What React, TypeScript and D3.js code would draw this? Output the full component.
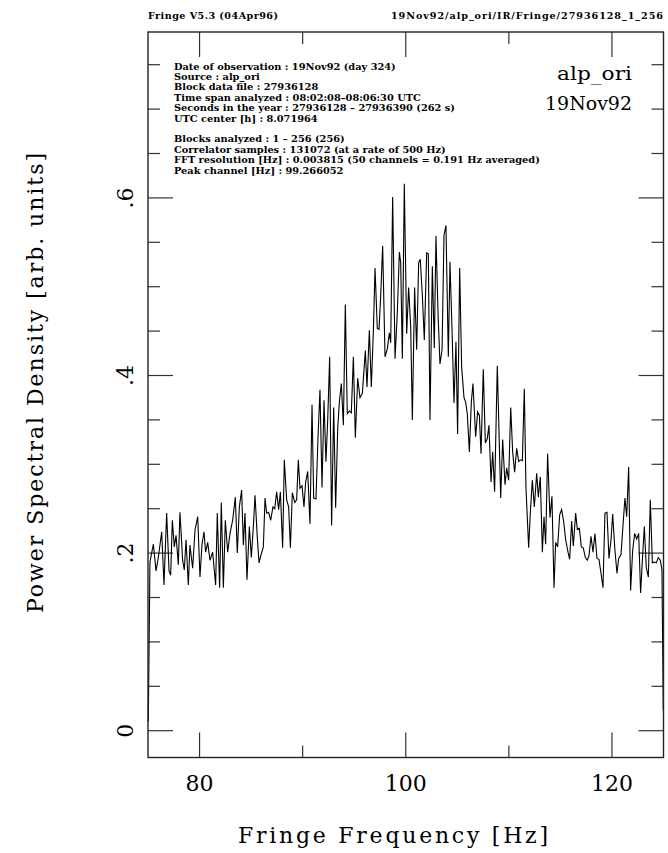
import React from "react";
import * as d3 from "d3";

const HEADER_LEFT = "Fringe V5.3 (04Apr96)";
const HEADER_RIGHT = "19Nov92/alp_ori/IR/Fringe/27936128_1_256";
const INFO_LINES = [
  "Date of observation : 19Nov92 (day 324)",
  "Source : alp_ori",
  "Block data file : 27936128",
  "Time span analyzed : 08:02:08\u201308:06:30 UTC",
  "Seconds in the year : 27936128 \u2013 27936390 (262 s)",
  "UTC center [h] : 8.071964",
  "",
  "Blocks analyzed : 1 \u2013 256 (256)",
  "Correlator samples : 131072 (at a rate of 500 Hz)",
  "FFT resolution [Hz] : 0.003815 (50 channels = 0.191 Hz averaged)",
  "Peak channel [Hz] : 99.266052",
];
const SOURCE_LABEL = "alp_ori";
const DATE_LABEL = "19Nov92";
const X_TITLE = "Fringe Frequency [Hz]";
const Y_TITLE = "Power Spectral Density [arb. units]";

const X_MAJOR = [80, 100, 120];
const X_MINOR = [90, 110];
const X_LABELS = ["80", "100", "120"];
const Y_MAJOR = [0, 0.2, 0.4, 0.6];
const Y_MINOR = [0.05, 0.1, 0.15, 0.25, 0.3, 0.35, 0.45, 0.5, 0.55, 0.65, 0.7, 0.75];
const Y_LABELS = ["0", ".2", ".4", ".6"];

const FREQ = [
  75.03, 75.19, 75.52, 75.78, 76.0, 76.33, 76.55, 76.81, 77.04, 77.2, 77.36, 77.55, 77.72, 77.94, 78.1,
  78.36, 78.52, 78.69, 78.91, 79.07, 79.33, 79.56, 79.82, 80.04, 80.24, 80.43, 80.59, 80.79, 81.01, 81.27,
  81.56, 81.72, 81.95, 82.11, 82.31, 82.5, 82.73, 82.95, 83.21, 83.47, 83.66, 83.86, 84.08, 84.25, 84.41,
  84.6, 84.83, 85.02, 85.22, 85.38, 85.6, 85.77, 85.96, 86.19, 86.35, 86.51, 86.7, 86.9, 87.12, 87.29,
  87.48, 87.67, 87.84, 88.06, 88.22, 88.45, 88.64, 88.81, 89.0, 89.23, 89.42, 89.58, 89.74, 89.94, 90.13,
  90.29, 90.49, 90.71, 90.91, 91.07, 91.29, 91.49, 91.68, 91.88, 92.07, 92.26, 92.43, 92.62, 92.81, 93.01,
  93.2, 93.4, 93.56, 93.75, 93.95, 94.14, 94.33, 94.53, 94.72, 94.92, 95.11, 95.34, 95.56, 95.79, 96.08,
  96.24, 96.47, 96.66, 96.86, 97.02, 97.24, 97.41, 97.57, 97.76, 97.99, 98.21, 98.41, 98.54, 98.73, 98.96,
  99.18, 99.38, 99.51, 99.67, 99.86, 100.09, 100.28, 100.48, 100.64, 100.86, 101.06, 101.25, 101.41, 101.61, 101.8,
  102.03, 102.19, 102.35, 102.58, 102.77, 102.93, 103.13, 103.32, 103.52, 103.71, 103.9, 104.13, 104.29, 104.49, 104.68,
  104.87, 105.03, 105.23, 105.42, 105.65, 105.81, 105.97, 106.17, 106.36, 106.52, 106.78, 106.97, 107.14, 107.3, 107.52,
  107.72, 107.91, 108.07, 108.27, 108.43, 108.62, 108.88, 109.21, 109.4, 109.63, 109.79, 109.98, 110.18, 110.37, 110.56,
  110.76, 110.95, 111.11, 111.31, 111.5, 111.66, 111.92, 112.08, 112.28, 112.47, 112.7, 112.86, 113.05, 113.25, 113.41,
  113.57, 113.76, 113.99, 114.18, 114.38, 114.54, 114.73, 114.93, 115.12, 115.32, 115.51, 115.74, 115.9, 116.09, 116.25,
  116.48, 116.64, 116.84, 117.03, 117.22, 117.42, 117.61, 117.77, 117.97, 118.16, 118.35, 118.55, 118.74, 118.94, 119.13,
  119.32, 119.52, 119.71, 119.91, 120.07, 120.29, 120.49, 120.65, 120.88, 121.07, 121.26, 121.43, 121.62, 121.81, 122.01,
  122.2, 122.4, 122.59, 122.78, 122.98, 123.14, 123.33, 123.53, 123.72, 123.92, 124.11, 124.3, 124.5, 124.69, 124.85,
  124.98,
];

const PSD = [
  0.01, 0.19, 0.21, 0.18, 0.195, 0.224, 0.164, 0.245, 0.18, 0.175, 0.237, 0.207, 0.22, 0.187, 0.246,
  0.192, 0.181, 0.215, 0.164, 0.209, 0.183, 0.226, 0.241, 0.173, 0.21, 0.224, 0.201, 0.212, 0.192, 0.201,
  0.164, 0.245, 0.161, 0.257, 0.161, 0.237, 0.201, 0.222, 0.237, 0.263, 0.2, 0.252, 0.271, 0.209, 0.245,
  0.17, 0.23, 0.195, 0.23, 0.265, 0.218, 0.189, 0.198, 0.207, 0.262, 0.245, 0.246, 0.237, 0.252, 0.25,
  0.269, 0.249, 0.269, 0.206, 0.305, 0.26, 0.252, 0.206, 0.268, 0.257, 0.26, 0.305, 0.273, 0.276, 0.252,
  0.28, 0.292, 0.233, 0.367, 0.262, 0.261, 0.33, 0.384, 0.274, 0.372, 0.303, 0.35, 0.421, 0.231, 0.364,
  0.251, 0.34, 0.37, 0.391, 0.344, 0.48, 0.357, 0.36, 0.358, 0.421, 0.33, 0.397, 0.375, 0.38, 0.428,
  0.387, 0.451, 0.387, 0.45, 0.521, 0.453, 0.452, 0.49, 0.546, 0.421, 0.43, 0.448, 0.437, 0.601, 0.419,
  0.47, 0.539, 0.527, 0.419, 0.616, 0.447, 0.499, 0.455, 0.35, 0.499, 0.429, 0.527, 0.531, 0.49, 0.44,
  0.538, 0.537, 0.35, 0.523, 0.431, 0.557, 0.47, 0.413, 0.429, 0.558, 0.569, 0.421, 0.528, 0.45, 0.369,
  0.438, 0.334, 0.521, 0.41, 0.375, 0.37, 0.357, 0.314, 0.37, 0.391, 0.331, 0.359, 0.355, 0.312, 0.407,
  0.324, 0.329, 0.344, 0.28, 0.314, 0.269, 0.411, 0.262, 0.328, 0.277, 0.296, 0.282, 0.364, 0.314, 0.291,
  0.318, 0.303, 0.305, 0.304, 0.385, 0.274, 0.206, 0.245, 0.282, 0.252, 0.29, 0.263, 0.286, 0.201, 0.241,
  0.21, 0.312, 0.24, 0.264, 0.161, 0.212, 0.207, 0.243, 0.249, 0.235, 0.215, 0.201, 0.193, 0.236, 0.208,
  0.245, 0.227, 0.228, 0.207, 0.206, 0.195, 0.192, 0.197, 0.219, 0.201, 0.222, 0.194, 0.193, 0.177, 0.161,
  0.245, 0.246, 0.194, 0.215, 0.244, 0.203, 0.177, 0.194, 0.198, 0.231, 0.262, 0.241, 0.297, 0.158, 0.203,
  0.222, 0.216, 0.222, 0.155, 0.198, 0.23, 0.184, 0.173, 0.26, 0.189, 0.19, 0.189, 0.195, 0.192, 0.181,
  0.023,
];

const W = 668;
const H = 853;
const LEFT = 148;
const RIGHT = 663.5;
const TOP = 32;
const BOTTOM = 757.5;
const MAJOR_LEN = 25;
const MINOR_LEN = 12;

export default function App() {
  const x = d3.scaleLinear().domain([75, 125]).range([LEFT, RIGHT]);
  const y = d3.scaleLinear().domain([0, 0.6]).range([730.7, 197.9]);
  const pts: [number, number][] = FREQ.map((f, i) => [f, PSD[i]]);
  const line = d3
    .line<[number, number]>()
    .x((d) => x(d[0]))
    .y((d) => y(d[1]));

  const tickStroke = "#333";
  const smallFont = "'DejaVu Serif', serif";
  const bigFont = "'DejaVu Serif', serif";

  return (
    <svg
      width={W}
      height={H}
      viewBox={`0 0 ${W} ${H}`}
      style={{ position: "absolute", left: 0, top: 0, background: "#fff" }}
    >
      <rect x={0} y={0} width={W} height={H} fill="#fff" />
      {/* header */}
      <text x={148} y={18.5} fontFamily={smallFont} fontWeight="bold" fontSize={9.6} fill="#000" textLength={130} lengthAdjust="spacing">
        {HEADER_LEFT}
      </text>
      <text x={391} y={18.5} fontFamily={smallFont} fontWeight="bold" fontSize={9.6} fill="#000" textLength={272} lengthAdjust="spacing">
        {HEADER_RIGHT}
      </text>

      {/* ticks */}
      <g stroke={tickStroke} strokeWidth={1.2}>
        {X_MAJOR.map((v) => (
          <g key={"xm" + v}>
            <line x1={x(v)} x2={x(v)} y1={BOTTOM} y2={BOTTOM - MAJOR_LEN} />
            <line x1={x(v)} x2={x(v)} y1={TOP} y2={TOP + MAJOR_LEN} />
          </g>
        ))}
        {X_MINOR.map((v) => (
          <g key={"xn" + v}>
            <line x1={x(v)} x2={x(v)} y1={BOTTOM} y2={BOTTOM - MINOR_LEN} />
            <line x1={x(v)} x2={x(v)} y1={TOP} y2={TOP + MINOR_LEN} />
          </g>
        ))}
        {Y_MAJOR.map((v) => (
          <g key={"ym" + v}>
            <line x1={LEFT} x2={LEFT + MAJOR_LEN} y1={y(v)} y2={y(v)} />
            <line x1={RIGHT} x2={RIGHT - MAJOR_LEN} y1={y(v)} y2={y(v)} />
          </g>
        ))}
        {Y_MINOR.map((v) => (
          <g key={"yn" + v}>
            <line x1={LEFT} x2={LEFT + MINOR_LEN} y1={y(v)} y2={y(v)} />
            <line x1={RIGHT} x2={RIGHT - MINOR_LEN} y1={y(v)} y2={y(v)} />
          </g>
        ))}
      </g>

      {/* data */}
      <path d={line(pts) || ""} fill="none" stroke="#000" strokeWidth={1.1} strokeLinejoin="miter" />

      {/* frame */}
      <rect x={LEFT} y={TOP} width={RIGHT - LEFT} height={BOTTOM - TOP} fill="none" stroke="#222" strokeWidth={1.4} />

      {/* info block */}
      <g fontFamily={smallFont} fontWeight="bold" fontSize={9.8} fill="#000">
        {INFO_LINES.map((t, i) =>
          t ? (
            <text key={i} x={174} y={69.5 + i * 10.4}>
              {t}
            </text>
          ) : null
        )}
      </g>

      <text x={632} y={80} textAnchor="end" fontFamily={bigFont} fontSize={19} fill="#000" textLength={75} lengthAdjust="spacingAndGlyphs">
        {SOURCE_LABEL}
      </text>
      <text x={632} y={110} textAnchor="end" fontFamily={bigFont} fontSize={19} fill="#000" textLength={87} lengthAdjust="spacingAndGlyphs">
        {DATE_LABEL}
      </text>

      {/* x labels */}
      {X_MAJOR.map((v, i) => (
        <text
          key={"xl" + v}
          x={x(v)}
          y={791}
          textAnchor="middle"
          fontFamily={bigFont}
          fontSize={22}
          fill="#000"
        >
          {X_LABELS[i]}
        </text>
      ))}
      <text x={393} y={843} textAnchor="middle" fontFamily={bigFont} fontSize={22} fill="#000" textLength={310} lengthAdjust="spacing">
        {X_TITLE}
      </text>

      {/* y labels */}
      {Y_MAJOR.map((v, i) => (
        <text
          key={"yl" + v}
          transform={`translate(133,${y(v)}) rotate(-90)`}
          textAnchor="middle"
          fontFamily={bigFont}
          fontSize={22}
          fill="#000"
        >
          {Y_LABELS[i]}
        </text>
      ))}
      <text
        transform={`translate(43,383) rotate(-90)`}
        textAnchor="middle"
        fontFamily={bigFont}
        fontSize={22}
        fill="#000"
        textLength={460}
        lengthAdjust="spacing"
      >
        {Y_TITLE}
      </text>
    </svg>
  );
}
